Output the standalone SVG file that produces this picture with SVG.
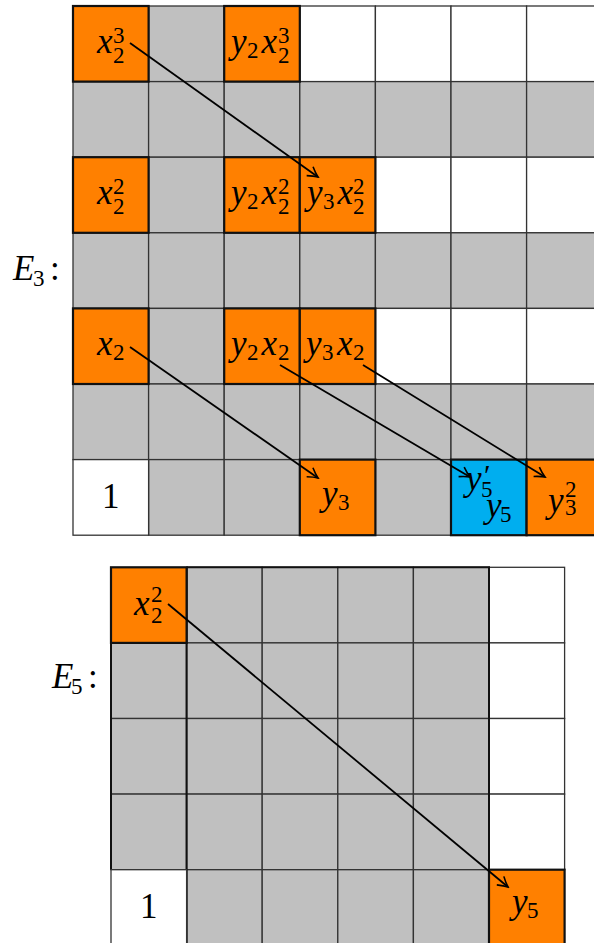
<svg xmlns="http://www.w3.org/2000/svg" width="594" height="943" viewBox="0 0 594 943">
<style>
.w{fill:#fff;stroke:#333;stroke-width:1.3}
.g{fill:#c0c0c0;stroke:#333;stroke-width:1.3}
.o{fill:#ff8000;stroke:#111;stroke-width:2.2}
.b{fill:#00aeef;stroke:#111;stroke-width:2.2}
.m{font-family:"Liberation Serif","DejaVu Serif",serif;font-style:italic;font-size:35px;fill:#000}
.s{font-style:normal;font-size:23px}
.p{font-style:normal;font-size:30px}
.n{font-family:"Liberation Serif","DejaVu Serif",serif;font-size:35px;fill:#000}
.a{stroke:#000;stroke-width:1.8;fill:none;marker-end:url(#ah)}
</style>
<defs>
<marker id="ah" viewBox="-11 -7 13 14" refX="0" refY="0" markerWidth="13" markerHeight="14" markerUnits="userSpaceOnUse" orient="auto">
<path d="M-10,-5.5 Q-4,-1.5 0,0 Q-4,1.5 -10,5.5" fill="none" stroke="#000" stroke-width="1.6"/>
</marker>
</defs>
<rect width="594" height="943" fill="#fff"/>

<g id="grid-e3">
<rect class="g" x="148.6" y="6" width="75.6" height="75.6"/>
<rect class="w" x="299.8" y="6" width="75.6" height="75.6"/>
<rect class="w" x="375.4" y="6" width="75.6" height="75.6"/>
<rect class="w" x="451" y="6" width="75.6" height="75.6"/>
<rect class="w" x="526.6" y="6" width="75.6" height="75.6"/>
<rect class="g" x="73" y="81.6" width="75.6" height="75.6"/>
<rect class="g" x="148.6" y="81.6" width="75.6" height="75.6"/>
<rect class="g" x="224.2" y="81.6" width="75.6" height="75.6"/>
<rect class="g" x="299.8" y="81.6" width="75.6" height="75.6"/>
<rect class="g" x="375.4" y="81.6" width="75.6" height="75.6"/>
<rect class="g" x="451" y="81.6" width="75.6" height="75.6"/>
<rect class="g" x="526.6" y="81.6" width="75.6" height="75.6"/>
<rect class="g" x="148.6" y="157.2" width="75.6" height="75.6"/>
<rect class="w" x="375.4" y="157.2" width="75.6" height="75.6"/>
<rect class="w" x="451" y="157.2" width="75.6" height="75.6"/>
<rect class="w" x="526.6" y="157.2" width="75.6" height="75.6"/>
<rect class="g" x="73" y="232.8" width="75.6" height="75.6"/>
<rect class="g" x="148.6" y="232.8" width="75.6" height="75.6"/>
<rect class="g" x="224.2" y="232.8" width="75.6" height="75.6"/>
<rect class="g" x="299.8" y="232.8" width="75.6" height="75.6"/>
<rect class="g" x="375.4" y="232.8" width="75.6" height="75.6"/>
<rect class="g" x="451" y="232.8" width="75.6" height="75.6"/>
<rect class="g" x="526.6" y="232.8" width="75.6" height="75.6"/>
<rect class="g" x="148.6" y="308.4" width="75.6" height="75.6"/>
<rect class="w" x="375.4" y="308.4" width="75.6" height="75.6"/>
<rect class="w" x="451" y="308.4" width="75.6" height="75.6"/>
<rect class="w" x="526.6" y="308.4" width="75.6" height="75.6"/>
<rect class="g" x="73" y="384" width="75.6" height="75.6"/>
<rect class="g" x="148.6" y="384" width="75.6" height="75.6"/>
<rect class="g" x="224.2" y="384" width="75.6" height="75.6"/>
<rect class="g" x="299.8" y="384" width="75.6" height="75.6"/>
<rect class="g" x="375.4" y="384" width="75.6" height="75.6"/>
<rect class="g" x="451" y="384" width="75.6" height="75.6"/>
<rect class="g" x="526.6" y="384" width="75.6" height="75.6"/>
<rect class="g" x="148.6" y="459.6" width="75.6" height="75.6"/>
<rect class="g" x="224.2" y="459.6" width="75.6" height="75.6"/>
<rect class="g" x="375.4" y="459.6" width="75.6" height="75.6"/>
</g>

<text class="m" x="13" y="280">E<tspan class="s" x="33" y="286">3</tspan><tspan style="font-style:normal" x="50" y="280">:</tspan></text>

<g id="e3-x2-3"><rect class="o" x="73" y="6" width="75.6" height="75.6"/>
<text class="m"><tspan x="97" y="53">x</tspan><tspan class="s" x="113" y="43">3</tspan><tspan class="s" x="113" y="63">2</tspan></text></g>
<g id="e3-y2x2-3"><rect class="o" x="224.2" y="6" width="75.6" height="75.6"/>
<text class="m"><tspan x="231" y="53">y</tspan><tspan class="s" x="247" y="58">2</tspan><tspan x="261.5" y="53">x</tspan><tspan class="s" x="278" y="43">3</tspan><tspan class="s" x="278" y="63">2</tspan></text></g>

<g id="e3-x2-2"><rect class="o" x="73" y="157.2" width="75.6" height="75.6"/>
<text class="m"><tspan x="97" y="204">x</tspan><tspan class="s" x="113" y="194">2</tspan><tspan class="s" x="113" y="214">2</tspan></text></g>
<g id="e3-y2x2-2"><rect class="o" x="224.2" y="157.2" width="75.6" height="75.6"/>
<text class="m"><tspan x="231" y="204">y</tspan><tspan class="s" x="247" y="209">2</tspan><tspan x="261.5" y="204">x</tspan><tspan class="s" x="278" y="194">2</tspan><tspan class="s" x="278" y="214">2</tspan></text></g>
<g id="e3-y3x2-2"><rect class="o" x="299.8" y="157.2" width="75.6" height="75.6"/>
<text class="m"><tspan x="307" y="204">y</tspan><tspan class="s" x="323" y="209">3</tspan><tspan x="337.5" y="204">x</tspan><tspan class="s" x="353" y="194">2</tspan><tspan class="s" x="353" y="214">2</tspan></text></g>

<g id="e3-x2"><rect class="o" x="73" y="308.4" width="75.6" height="75.6"/>
<text class="m"><tspan x="97" y="355">x</tspan><tspan class="s" x="113" y="360">2</tspan></text></g>
<g id="e3-y2x2"><rect class="o" x="224.2" y="308.4" width="75.6" height="75.6"/>
<text class="m"><tspan x="231" y="355">y</tspan><tspan class="s" x="247" y="360">2</tspan><tspan x="261.5" y="355">x</tspan><tspan class="s" x="278" y="360">2</tspan></text></g>
<g id="e3-y3x2"><rect class="o" x="299.8" y="308.4" width="75.6" height="75.6"/>
<text class="m"><tspan x="306" y="355">y</tspan><tspan class="s" x="322" y="360">3</tspan><tspan x="337" y="355">x</tspan><tspan class="s" x="353" y="360">2</tspan></text></g>

<g id="e3-one"><rect class="w" x="73" y="459.6" width="75.6" height="75.6"/>
<text class="n" x="110.8" y="508" text-anchor="middle">1</text></g>
<g id="e3-y3"><rect class="o" x="299.8" y="459.6" width="75.6" height="75.6"/>
<text class="m"><tspan x="322" y="505">y</tspan><tspan class="s" x="338" y="510">3</tspan></text></g>
<g id="e3-y5"><rect class="b" x="451" y="459.6" width="75.6" height="75.6"/>
<text class="m"><tspan x="466" y="490">y</tspan><tspan class="p" x="484" y="485">′</tspan><tspan class="s" x="481" y="497">5</tspan></text>
<text class="m"><tspan x="486" y="517">y</tspan><tspan class="s" x="500" y="522">5</tspan></text></g>
<g id="e3-y3-2"><rect class="o" x="526.6" y="459.6" width="75.6" height="75.6"/>
<text class="m"><tspan x="548" y="512">y</tspan><tspan class="s" x="565" y="497">2</tspan><tspan class="s" x="565" y="515">3</tspan></text></g>

<g id="grid-e5">
<rect class="g" x="186.6" y="567.3" width="75.6" height="75.6"/>
<rect class="g" x="262.2" y="567.3" width="75.6" height="75.6"/>
<rect class="g" x="337.8" y="567.3" width="75.6" height="75.6"/>
<rect class="g" x="413.4" y="567.3" width="75.6" height="75.6"/>
<rect class="w" x="489" y="567.3" width="75.6" height="75.6"/>
<rect class="g" x="111" y="642.9" width="75.6" height="75.6"/>
<rect class="g" x="186.6" y="642.9" width="75.6" height="75.6"/>
<rect class="g" x="262.2" y="642.9" width="75.6" height="75.6"/>
<rect class="g" x="337.8" y="642.9" width="75.6" height="75.6"/>
<rect class="g" x="413.4" y="642.9" width="75.6" height="75.6"/>
<rect class="w" x="489" y="642.9" width="75.6" height="75.6"/>
<rect class="g" x="111" y="718.5" width="75.6" height="75.6"/>
<rect class="g" x="186.6" y="718.5" width="75.6" height="75.6"/>
<rect class="g" x="262.2" y="718.5" width="75.6" height="75.6"/>
<rect class="g" x="337.8" y="718.5" width="75.6" height="75.6"/>
<rect class="g" x="413.4" y="718.5" width="75.6" height="75.6"/>
<rect class="w" x="489" y="718.5" width="75.6" height="75.6"/>
<rect class="g" x="111" y="794.1" width="75.6" height="75.6"/>
<rect class="g" x="186.6" y="794.1" width="75.6" height="75.6"/>
<rect class="g" x="262.2" y="794.1" width="75.6" height="75.6"/>
<rect class="g" x="337.8" y="794.1" width="75.6" height="75.6"/>
<rect class="g" x="413.4" y="794.1" width="75.6" height="75.6"/>
<rect class="w" x="489" y="794.1" width="75.6" height="75.6"/>
<rect class="g" x="186.6" y="869.7" width="75.6" height="75.6"/>
<rect class="g" x="262.2" y="869.7" width="75.6" height="75.6"/>
<rect class="g" x="337.8" y="869.7" width="75.6" height="75.6"/>
<rect class="g" x="413.4" y="869.7" width="75.6" height="75.6"/>
<path d="M111,642.9 V869.7 M186.6,567.3 V945 M186.6,567.3 H489 V945" fill="none" stroke="#111" stroke-width="2"/>
</g>

<text class="m" x="52" y="688">E<tspan class="s" x="71" y="694">5</tspan><tspan style="font-style:normal" x="88" y="688">:</tspan></text>

<g id="e5-x2-2"><rect class="o" x="111" y="567.3" width="75.6" height="75.6"/>
<text class="m"><tspan x="134" y="615">x</tspan><tspan class="s" x="151" y="602">2</tspan><tspan class="s" x="151" y="623">2</tspan></text></g>
<g id="e5-one"><rect class="w" x="111" y="869.7" width="75.6" height="75.6"/>
<text class="n" x="148.8" y="918" text-anchor="middle">1</text></g>
<g id="e5-y5"><rect class="o" x="489" y="869.7" width="75.6" height="75.6"/>
<text class="m"><tspan x="512" y="913">y</tspan><tspan class="s" x="527" y="918">5</tspan></text></g>

<g id="connectors">
<line class="a" x1="130" y1="43" x2="318" y2="177"/>
<line class="a" x1="130" y1="347" x2="318" y2="478"/>
<line class="a" x1="280" y1="365" x2="470" y2="477"/>
<line class="a" x1="363" y1="365" x2="545" y2="477"/>
<line class="a" x1="168" y1="604" x2="508" y2="887"/>
</g>
</svg>
